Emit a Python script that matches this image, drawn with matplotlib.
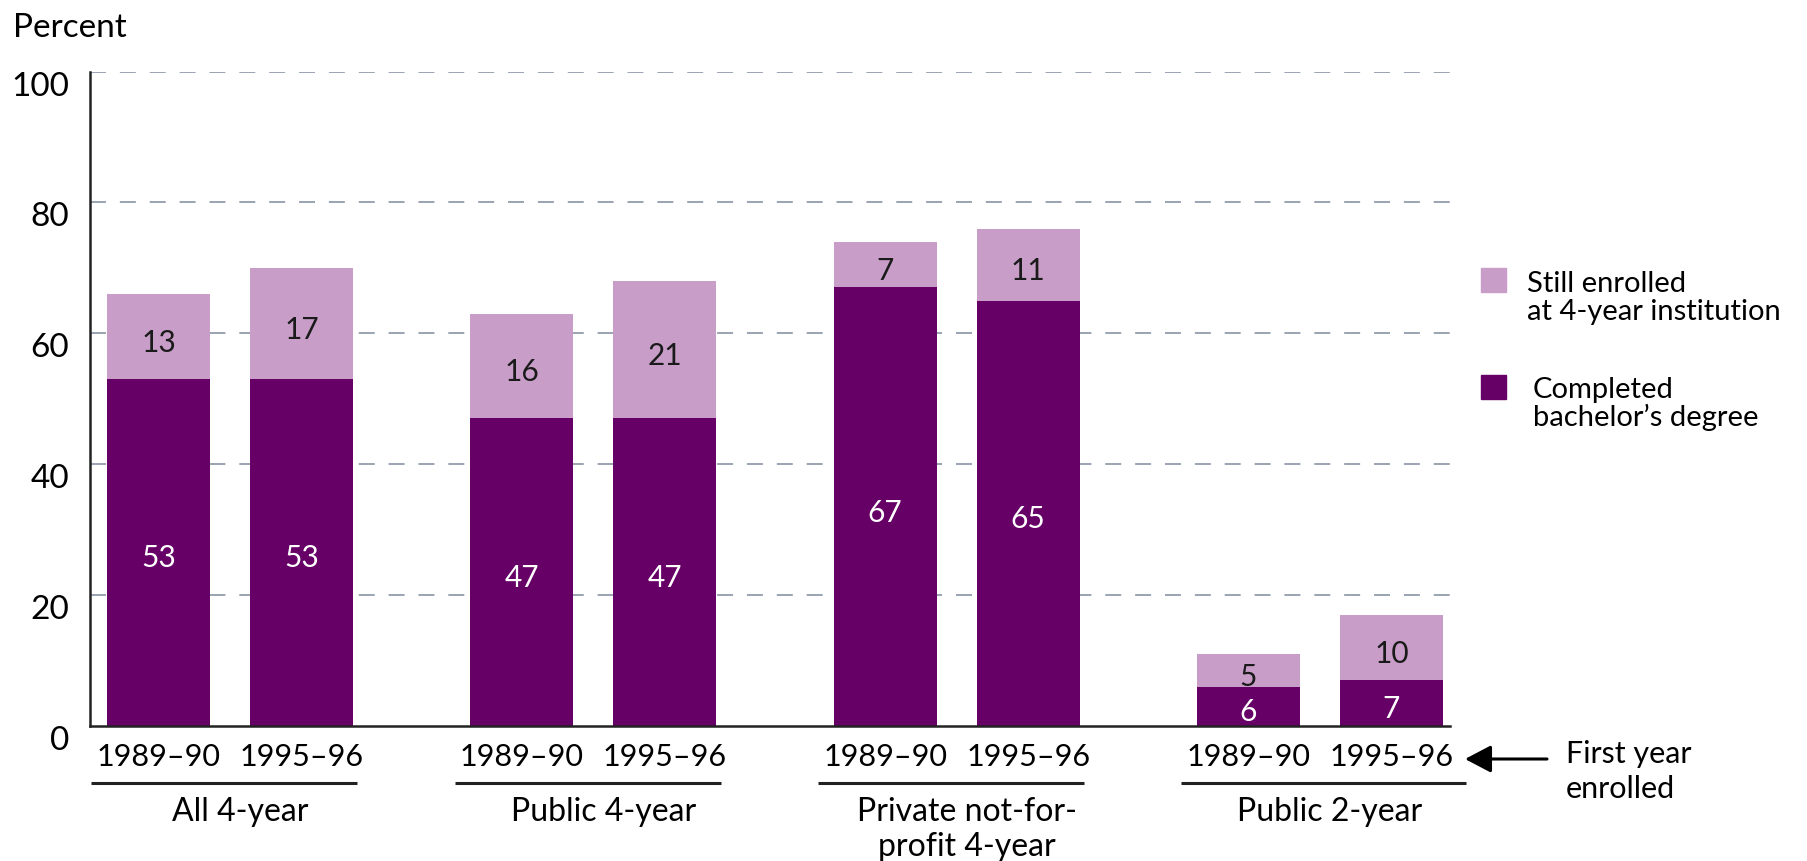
import matplotlib
matplotlib.use('Agg')
import matplotlib.pyplot as plt
import numpy as np
from matplotlib.patches import Rectangle

plt.rcParams['font.family'] = ['Lato', 'DejaVu Sans']
plt.rcParams['lines.scale_dashes'] = False

groups = ['All 4-year', 'Public 4-year', 'Private not-for-\nprofit 4-year', 'Public 2-year']
years = ['1989–90', '1995–96']
# completed bachelor's degree, then still enrolled, per bar (group x year)
completed = [53, 53, 47, 47, 67, 65, 6, 7]
still_enrolled = [13, 17, 16, 21, 7, 11, 5, 10]
yticks = [0, 20, 40, 60, 80, 100]

dark = '#660066'
light = '#C89DC8'
grid_col = '#7D8A9C'
W, H = 1808, 861

fig = plt.figure(figsize=(W / 100, H / 100), dpi=100)
ax = fig.add_axes([90 / W, 1 - 726 / H, (1450 - 90) / W, (726 - 71.5) / H])

pos = np.array([g * 2.54 + i for g in range(len(groups)) for i in range(len(years))])
bw = 0.72
ax.bar(pos, completed, width=bw, color=dark, zorder=3)
ax.bar(pos, still_enrolled, bottom=completed, width=bw, color=light, zorder=3)

ax.set_xlim(-0.48, 9.03)
ax.set_ylim(0, 100)
ax.set_xticks([])
ax.set_yticks(yticks, labels=[str(t) for t in yticks], va='top')
ax.tick_params(axis='y', length=0, pad=15, labelsize=24)
for t in yticks[1:]:
    ax.axhline(t, color=grid_col, lw=1.1, ls=(0, (11.5, 10)), zorder=1)

for s in ['top', 'right']:
    ax.spines[s].set_visible(False)
for s in ['left', 'bottom']:
    ax.spines[s].set_linewidth(1.8)
    ax.spines[s].set_color('#222222')
    ax.spines[s].set_zorder(4)

# value labels
for p, c, e in zip(pos, completed, still_enrolled):
    ax.text(p, c / 2 - 0.5, str(c), color='white', ha='center', va='center_baseline',
            fontsize=21.5, zorder=5)
    ax.text(p, c + e / 2 - 0.6, str(e), color='#1a1a1a', ha='center', va='center_baseline',
            fontsize=21.5, zorder=5)

# year labels, group underlines and group names
xt = ax.get_xaxis_transform()
ah = 726 - 71.5
for i, p in enumerate(pos):
    ax.text(p, -(766 - 726) / ah, years[i % 2], transform=xt, ha='center', va='baseline',
            fontsize=22)
for g, name in enumerate(groups):
    p0, p1 = pos[2 * g], pos[2 * g + 1]
    ext = 0.52 if g == len(groups) - 1 else 0.39
    ax.plot([p0 - 0.47, p1 + ext], [-(783 - 726) / ah] * 2, transform=xt, clip_on=False,
            color='#222222', lw=2.2, solid_capstyle='butt')
    for k, line in enumerate(name.split('\n')):
        ax.text((p0 + p1) / 2 + 0.07, -(821 + 35 * k - 726) / ah, line, transform=xt,
                ha='center', va='baseline', fontsize=23)

fig.text(13 / W, 1 - 37 / H, 'Percent', va='baseline', fontsize=24)

# legend
fig.add_artist(Rectangle((1481 / W, 1 - 292 / H), 25 / W, 24 / H, transform=fig.transFigure,
                         color=light))
fig.add_artist(Rectangle((1481 / W, 1 - 399 / H), 25 / W, 24 / H, transform=fig.transFigure,
                         color=dark))
fig.text(1527 / W, 1 - 292 / H, 'Still enrolled', va='baseline', fontsize=21)
fig.text(1527 / W, 1 - 320 / H, 'at 4-year institution', va='baseline', fontsize=21)
fig.text(1533 / W, 1 - 398 / H, 'Completed', va='baseline', fontsize=21)
fig.text(1533 / W, 1 - 426 / H, 'bachelor’s degree', va='baseline', fontsize=21)

# first year enrolled note
ax.annotate('', xy=(1465 / W, 1 - 759 / H), xytext=(1547 / W, 1 - 759 / H),
            xycoords='figure fraction', textcoords='figure fraction',
            arrowprops=dict(arrowstyle='-|>,head_length=0.8,head_width=0.42', mutation_scale=20,
                            lw=2.2, color='black', shrinkA=0, shrinkB=0))
fig.text(1566 / W, 1 - 763 / H, 'First year', va='baseline', fontsize=22)
fig.text(1566 / W, 1 - 798 / H, 'enrolled', va='baseline', fontsize=22)

fig.savefig('out.png', dpi=100)
